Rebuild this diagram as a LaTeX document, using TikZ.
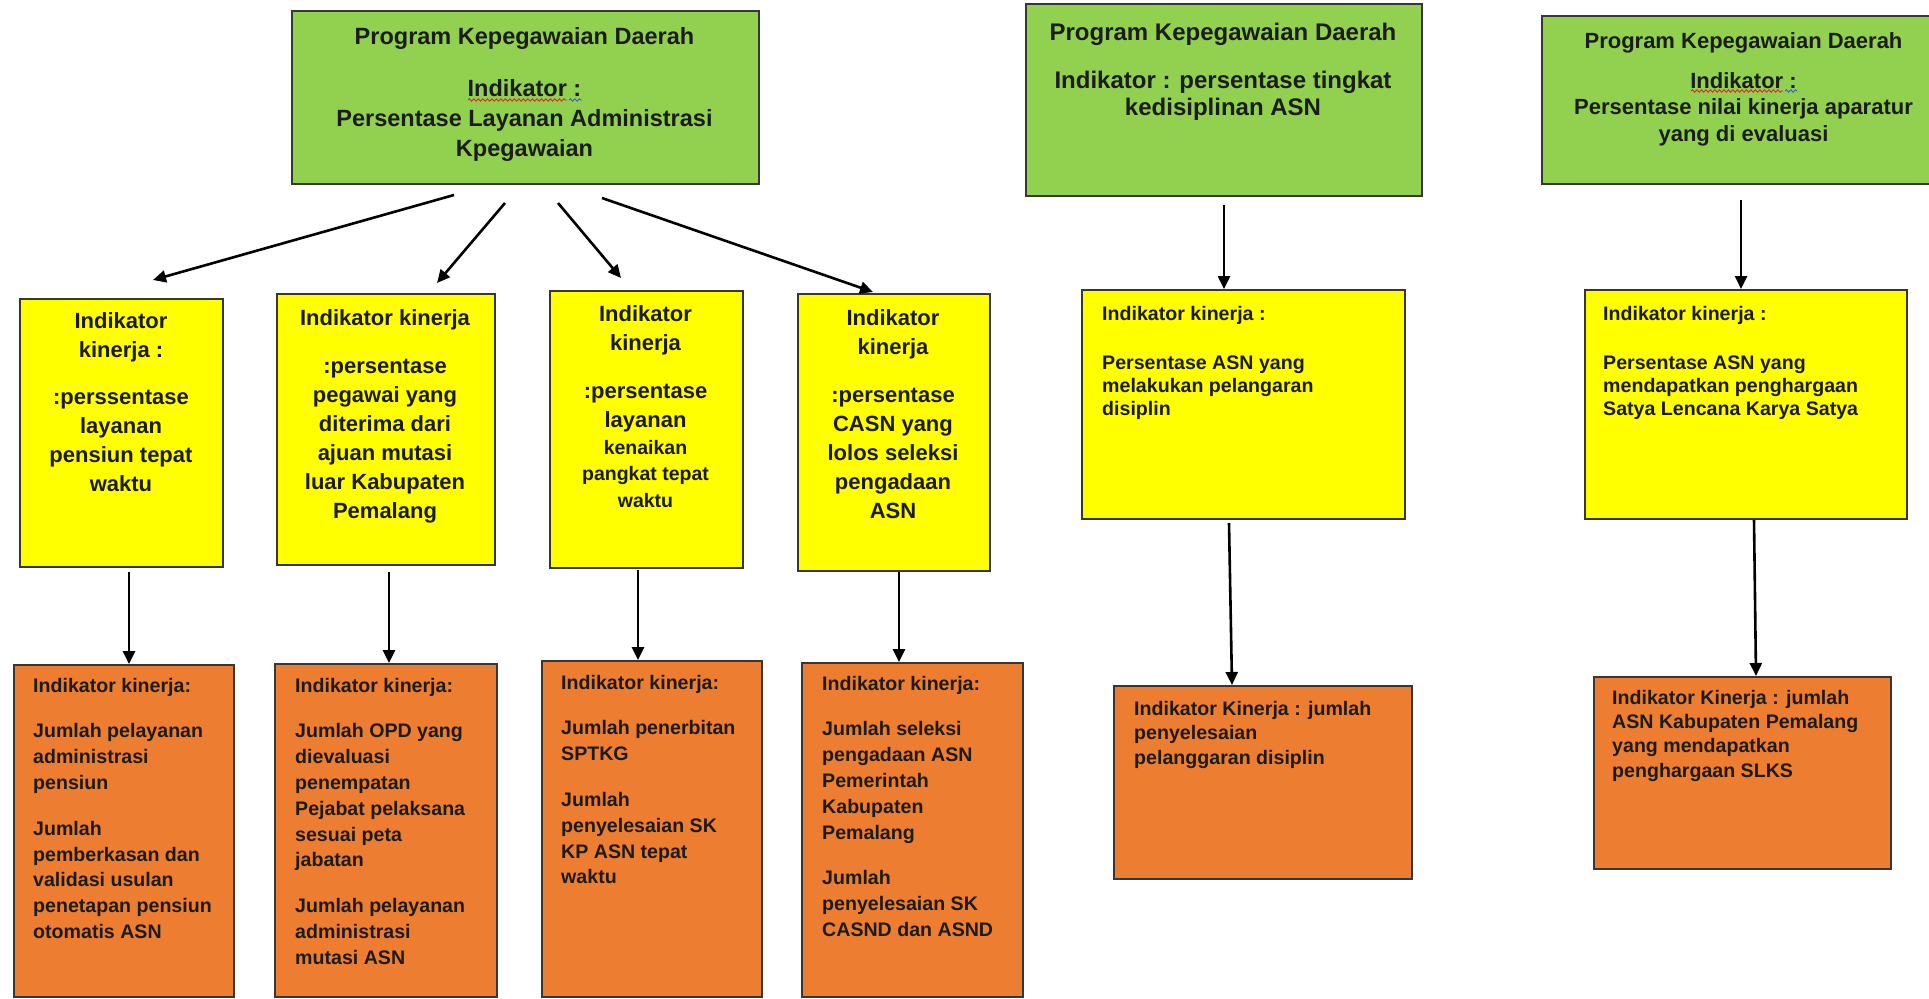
\documentclass[tikz,border=0pt]{standalone}
\usepackage{fontspec}
\setmainfont{Liberation Sans}
\usetikzlibrary{arrows.meta,decorations.pathmorphing}

\definecolor{boxgreen}{RGB}{146,208,80}
\definecolor{boxyellow}{RGB}{255,255,0}
\definecolor{boxorange}{RGB}{237,125,49}
\definecolor{edge}{RGB}{55,55,55}
\definecolor{ink}{RGB}{28,28,28}
\definecolor{spellred}{RGB}{220,40,40}
\definecolor{spellblue}{RGB}{60,90,220}

% bold sans at a given size and line spacing
\newcommand{\fsz}[2]{\fontsize{#1}{#2}\selectfont\bfseries}

\begin{document}
\begin{tikzpicture}[x=1pt,y=-1pt,
  panel/.style={draw=edge,line width=1.6pt,inner sep=0pt,anchor=north west},
  greenbox/.style={panel,fill=boxgreen},
  yellowbox/.style={panel,fill=boxyellow},
  orangebox/.style={panel,fill=boxorange},
  ctext/.style={inner sep=0pt,anchor=north,align=center,text=ink},
  ltext/.style={inner sep=0pt,anchor=north west,align=left,text=ink},
  arr/.style={draw=black,line width=2.6pt,-{Triangle[length=13pt,width=12pt]}},
  squig/.style={line width=0.9pt,decorate,decoration={snake,amplitude=1.2pt,segment length=4.5pt}}
]
\useasboundingbox (0,0) rectangle (1929,998);
\fill[white] (0,0) rectangle (1929,998);
\clip (0,0) rectangle (1929,998);

% ---------- programme boxes ----------
\node[greenbox,minimum width=467pt,minimum height=173pt] (g1) at (291,10) {};
\node[greenbox,minimum width=396pt,minimum height=192pt] (g2) at (1025,3) {};
\node[greenbox,minimum width=400pt,minimum height=168pt] (g3) at (1541,15) {};

\node[ctext,font=\fsz{23.5}{30}] (g1t) at (524.5,27.3)
  {Program Kepegawaian Daerah\\[22pt]Indikator :\\Persentase Layanan Administrasi\\Kpegawaian};
\node[ctext,font=\fsz{24}{27}] (g2t) at (1223,23.1)
  {Program Kepegawaian Daerah\\[21pt]Indikator : persentase tingkat\\kedisiplinan ASN};
\node[ctext,font=\fsz{22}{26.5}] (g3t) at (1743.5,31.9)
  {Program Kepegawaian Daerah\\[13.5pt]Indikator :\\Persentase nilai kinerja aparatur\\yang di evaluasi};

% spell-check marks under "Indikator :"
\draw[squig,spellred] (468,100) -- (567,100);
\draw[squig,spellblue] (569,100) -- (582,100);
\draw[squig,spellred] (1691,91) -- (1783,91);
\draw[squig,spellblue] (1785,91) -- (1797,91);

% ---------- performance indicator boxes ----------
\node[yellowbox,minimum width=203pt,minimum height=268pt] (y1) at (19,298) {};
\node[yellowbox,minimum width=218pt,minimum height=271pt] (y2) at (276,293) {};
\node[yellowbox,minimum width=193pt,minimum height=277pt] (y3) at (549,290) {};
\node[yellowbox,minimum width=192pt,minimum height=277pt] (y4) at (797,293) {};
\node[yellowbox,minimum width=323pt,minimum height=229pt] (y5) at (1081,289) {};
\node[yellowbox,minimum width=322pt,minimum height=229pt] (y6) at (1584,289) {};

\node[ctext,font=\fsz{22}{29}] (y1t) at (121,311.9)
  {Indikator\\kinerja :\\[18pt]:perssentase\\layanan\\pensiun tepat\\waktu};
\node[ctext,font=\fsz{22}{29}] (y2t) at (385,308.9)
  {Indikator kinerja\\[19pt]:persentase\\pegawai yang\\diterima dari\\ajuan mutasi\\luar Kabupaten\\Pemalang};
\node[ctext,font=\fsz{22}{29}] (y3t) at (645.5,304.9)
  {Indikator\\kinerja\\[19pt]:persentase\\layanan};
\node[ctext,font=\fsz{19.5}{26.5}] (y3u) at (645.5,439.8)
  {kenaikan\\pangkat tepat\\waktu};
\node[ctext,font=\fsz{22}{29}] (y4t) at (893,308.9)
  {Indikator\\kinerja\\[19pt]:persentase\\CASN yang\\lolos seleksi\\pengadaan\\ASN};
\node[ltext,font=\fsz{19.6}{23}] (y5t) at (1102,305.7)
  {Indikator kinerja :\\[26pt]Persentase ASN yang\\melakukan pelangaran\\disiplin};
\node[ltext,font=\fsz{19.6}{23}] (y6t) at (1603,305.7)
  {Indikator kinerja :\\[26pt]Persentase ASN yang\\mendapatkan penghargaan\\Satya Lencana Karya Satya};

% ---------- activity indicator boxes ----------
\node[orangebox,minimum width=220pt,minimum height=332pt] (o1) at (13,664) {};
\node[orangebox,minimum width=222pt,minimum height=333pt] (o2) at (274,663) {};
\node[orangebox,minimum width=220pt,minimum height=336pt] (o3) at (541,660) {};
\node[orangebox,minimum width=221pt,minimum height=334pt] (o4) at (801,662) {};
\node[orangebox,minimum width=298pt,minimum height=193pt] (o5) at (1113,685) {};
\node[orangebox,minimum width=297pt,minimum height=192pt] (o6) at (1593,676) {};

\node[ltext,font=\fsz{19.6}{25.8}] (o1t) at (33,677.7)
  {Indikator kinerja:\\[20pt]Jumlah pelayanan\\administrasi\\pensiun\\[20pt]Jumlah\\pemberkasan dan\\validasi usulan\\penetapan pensiun\\otomatis ASN};
\node[ltext,font=\fsz{19.6}{25.8}] (o2t) at (295,677.7)
  {Indikator kinerja:\\[20pt]Jumlah OPD yang\\dievaluasi\\penempatan\\Pejabat pelaksana\\sesuai peta\\jabatan\\[20pt]Jumlah pelayanan\\administrasi\\mutasi ASN};
\node[ltext,font=\fsz{19.6}{25.8}] (o3t) at (561,674.7)
  {Indikator kinerja:\\[20pt]Jumlah penerbitan\\SPTKG\\[20pt]Jumlah\\penyelesaian SK\\KP ASN tepat\\waktu};
\node[ltext,font=\fsz{19.6}{25.8}] (o4t) at (822,675.7)
  {Indikator kinerja:\\[20pt]Jumlah seleksi\\pengadaan ASN\\Pemerintah\\Kabupaten\\Pemalang\\[20pt]Jumlah\\penyelesaian SK\\CASND dan ASND};
\node[ltext,font=\fsz{19.6}{24.5}] (o5t) at (1134,700.7)
  {Indikator Kinerja : jumlah\\penyelesaian\\pelanggaran disiplin};
\node[ltext,font=\fsz{19.6}{24.3}] (o6t) at (1612,689.7)
  {Indikator Kinerja : jumlah\\ASN Kabupaten Pemalang\\yang mendapatkan\\penghargaan SLKS};

% ---------- connector end points ----------
\coordinate (g1a) at (454,195);  \coordinate (y1a) at (153,280);
\coordinate (g1b) at (505,203);  \coordinate (y2a) at (437,283);
\coordinate (g1c) at (558,203);  \coordinate (y3a) at (621,278);
\coordinate (g1d) at (602,198);  \coordinate (y4a) at (873,292);
\coordinate (y1b) at (129,572);  \coordinate (o1a) at (129,664);
\coordinate (y2b) at (389,572);  \coordinate (o2a) at (389,663);
\coordinate (y3b) at (638,570);  \coordinate (o3a) at (638,660);
\coordinate (y4b) at (899,572);  \coordinate (o4a) at (899,662);
\coordinate (g2a) at (1224,205); \coordinate (y5a) at (1224,289);
\coordinate (y5b) at (1229,523); \coordinate (o5a) at (1232,685);
\coordinate (g3a) at (1741,200); \coordinate (y6a) at (1741,289);
\coordinate (y6b) at (1754,520); \coordinate (o6a) at (1756,676);

% ---------- connectors ----------
\draw[arr] (g1a) -- (y1a);
\draw[arr] (g1b) -- (y2a);
\draw[arr] (g1c) -- (y3a);
\draw[arr] (g1d) -- (y4a);
\draw[arr] (y1b) -- (o1a);
\draw[arr] (y2b) -- (o2a);
\draw[arr] (y3b) -- (o3a);
\draw[arr] (y4b) -- (o4a);
\draw[arr] (g2a) -- (y5a);
\draw[arr] (y5b) -- (o5a);
\draw[arr] (g3a) -- (y6a);
\draw[arr] (y6b) -- (o6a);
\end{tikzpicture}
\end{document}
